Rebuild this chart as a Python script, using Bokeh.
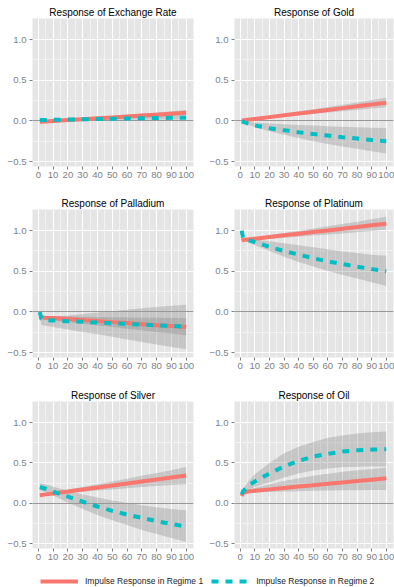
from bokeh.plotting import figure
from bokeh.models import Range1d, FixedTicker, Legend, LegendItem
from bokeh.layouts import column, row
from bokeh.embed import file_html
from bokeh.resources import INLINE

# ---------------- data ----------------
HORIZON = [1, 2, 5, 10, 20, 30, 40, 50, 60, 70, 80, 90, 100]

TITLES = ["Response of Exchange Rate", "Response of Gold",
          "Response of Palladium", "Response of Platinum",
          "Response of Silver", "Response of Oil"]
LEGEND_LABELS = ["Impulse Response in Regime 1", "Impulse Response in Regime 2"]

X_TICKS = [0, 10, 20, 30, 40, 50, 60, 70, 80, 90, 100]
X_MINOR = [5, 15, 25, 35, 45, 55, 65, 75, 85, 95]
X_LABELS = ["0", "10", "20", "30", "40", "50", "60", "70", "80", "90", "100"]
Y_TICKS = [-0.5, 0.0, 0.5, 1.0]
Y_MINOR = [-0.25, 0.25, 0.75]
Y_LABELS = ["\u22120.5", "0.0", "0.5", "1.0"]

# Exchange Rate
exch_r1 = [-0.010, -0.009, -0.006, 0.000, 0.011, 0.022, 0.033, 0.044, 0.055, 0.066, 0.077, 0.089, 0.100]
exch_r1_lo = [-0.013, -0.013, -0.011, -0.007, 0.001, 0.009, 0.017, 0.026, 0.034, 0.042, 0.050, 0.058, 0.065]
exch_r1_hi = [-0.007, -0.005, -0.001, 0.007, 0.021, 0.035, 0.049, 0.062, 0.076, 0.090, 0.104, 0.119, 0.135]
exch_r2 = [0.010, 0.011, 0.012, 0.014, 0.017, 0.020, 0.024, 0.027, 0.030, 0.033, 0.036, 0.038, 0.040]
exch_r2_lo = [0.007, 0.008, 0.008, 0.009, 0.010, 0.011, 0.013, 0.014, 0.015, 0.016, 0.017, 0.017, 0.017]
exch_r2_hi = [0.013, 0.014, 0.016, 0.019, 0.024, 0.029, 0.035, 0.040, 0.045, 0.050, 0.055, 0.059, 0.063]

# Gold
gold_r1 = [0.005, 0.007, 0.014, 0.025, 0.047, 0.069, 0.091, 0.114, 0.136, 0.158, 0.180, 0.203, 0.225]
gold_r1_lo = [0.004, 0.006, 0.011, 0.019, 0.036, 0.052, 0.069, 0.086, 0.103, 0.120, 0.136, 0.153, 0.170]
gold_r1_hi = [0.006, 0.008, 0.017, 0.031, 0.059, 0.087, 0.115, 0.144, 0.172, 0.200, 0.228, 0.257, 0.285]
gold_r2 = [-0.005, -0.012, -0.030, -0.055, -0.090, -0.115, -0.140, -0.160, -0.180, -0.200, -0.215, -0.235, -0.250]
gold_r2_lo = [-0.008, -0.020, -0.045, -0.075, -0.125, -0.170, -0.210, -0.248, -0.282, -0.313, -0.343, -0.372, -0.400]
gold_r2_hi = [-0.002, -0.005, -0.012, -0.020, -0.030, -0.040, -0.050, -0.057, -0.064, -0.070, -0.076, -0.082, -0.088]

# Palladium
pall_r1 = [-0.050, -0.065, -0.070, -0.075, -0.087, -0.100, -0.112, -0.125, -0.137, -0.150, -0.162, -0.174, -0.186]
pall_r1_lo = [-0.060, -0.085, -0.095, -0.105, -0.125, -0.145, -0.165, -0.185, -0.205, -0.225, -0.245, -0.265, -0.285]
pall_r1_hi = [-0.040, -0.050, -0.052, -0.054, -0.057, -0.060, -0.063, -0.066, -0.068, -0.070, -0.072, -0.074, -0.076]
pall_r2 = [0.000, -0.080, -0.100, -0.105, -0.113, -0.121, -0.130, -0.139, -0.147, -0.156, -0.164, -0.172, -0.180]
pall_r2_lo = [0.000, -0.160, -0.170, -0.185, -0.215, -0.245, -0.275, -0.305, -0.340, -0.370, -0.400, -0.430, -0.460]
pall_r2_hi = [0.000, -0.075, -0.070, -0.060, -0.045, -0.025, -0.008, 0.010, 0.028, 0.045, 0.060, 0.075, 0.090]

# Platinum
plat_r1 = [0.875, 0.885, 0.891, 0.901, 0.921, 0.942, 0.962, 0.983, 1.003, 1.024, 1.044, 1.065, 1.085]
plat_r1_lo = [0.872, 0.880, 0.884, 0.889, 0.900, 0.913, 0.926, 0.939, 0.952, 0.966, 0.980, 0.995, 1.012]
plat_r1_hi = [0.878, 0.890, 0.898, 0.913, 0.942, 0.970, 0.998, 1.026, 1.054, 1.083, 1.110, 1.140, 1.170]
plat_r2 = [1.000, 0.900, 0.885, 0.860, 0.800, 0.750, 0.705, 0.660, 0.622, 0.590, 0.557, 0.527, 0.500]
plat_r2_lo = [1.000, 0.895, 0.860, 0.820, 0.750, 0.680, 0.615, 0.560, 0.505, 0.455, 0.410, 0.365, 0.320]
plat_r2_hi = [1.000, 0.905, 0.900, 0.890, 0.870, 0.845, 0.820, 0.795, 0.770, 0.745, 0.725, 0.705, 0.690]

# Silver
silv_r1 = [0.100, 0.102, 0.110, 0.122, 0.147, 0.171, 0.196, 0.221, 0.245, 0.270, 0.295, 0.320, 0.345]
silv_r1_lo = [0.095, 0.097, 0.102, 0.110, 0.126, 0.142, 0.158, 0.172, 0.187, 0.200, 0.213, 0.225, 0.235]
silv_r1_hi = [0.105, 0.108, 0.118, 0.135, 0.168, 0.200, 0.235, 0.270, 0.305, 0.340, 0.375, 0.410, 0.450]
silv_r2 = [0.200, 0.195, 0.180, 0.145, 0.082, 0.020, -0.040, -0.095, -0.140, -0.180, -0.222, -0.256, -0.290]
silv_r2_lo = [0.160, 0.155, 0.135, 0.095, 0.010, -0.070, -0.145, -0.210, -0.270, -0.330, -0.380, -0.430, -0.480]
silv_r2_hi = [0.250, 0.245, 0.235, 0.205, 0.155, 0.110, 0.070, 0.035, 0.005, -0.025, -0.050, -0.070, -0.087]

# Oil
oil_r1 = [0.090, 0.130, 0.145, 0.155, 0.172, 0.190, 0.207, 0.224, 0.241, 0.258, 0.275, 0.292, 0.310]
oil_r1_lo = [0.090, 0.120, 0.128, 0.133, 0.140, 0.145, 0.150, 0.154, 0.157, 0.160, 0.162, 0.164, 0.165]
oil_r1_hi = [0.090, 0.140, 0.165, 0.190, 0.235, 0.275, 0.310, 0.340, 0.365, 0.390, 0.410, 0.425, 0.440]
oil_r2 = [0.110, 0.150, 0.210, 0.270, 0.370, 0.455, 0.525, 0.578, 0.612, 0.640, 0.655, 0.665, 0.670]
oil_r2_lo = [0.100, 0.130, 0.160, 0.200, 0.260, 0.320, 0.370, 0.405, 0.430, 0.445, 0.452, 0.455, 0.455]
oil_r2_hi = [0.120, 0.170, 0.260, 0.360, 0.500, 0.620, 0.700, 0.760, 0.810, 0.840, 0.865, 0.880, 0.890]

PANELS = [
    (exch_r1, exch_r1_lo, exch_r1_hi, exch_r2, exch_r2_lo, exch_r2_hi),
    (gold_r1, gold_r1_lo, gold_r1_hi, gold_r2, gold_r2_lo, gold_r2_hi),
    (pall_r1, pall_r1_lo, pall_r1_hi, pall_r2, pall_r2_lo, pall_r2_hi),
    (plat_r1, plat_r1_lo, plat_r1_hi, plat_r2, plat_r2_lo, plat_r2_hi),
    (silv_r1, silv_r1_lo, silv_r1_hi, silv_r2, silv_r2_lo, silv_r2_hi),
    (oil_r1, oil_r1_lo, oil_r1_hi, oil_r2, oil_r2_lo, oil_r2_hi),
]

# ---------------- style ----------------
RED = "#F8766D"
TEAL = "#00BFC4"
FONT = "Liberation Sans"
GREY_TXT = "#7F7F7F"

ROW_HEIGHTS = [191, 192, 187]      # figure heights per row
ROW_BOTTOM = [25, 26, 22]          # bottom border per row


def make_panel(idx):
    r1, r1_lo, r1_hi, r2, r2_lo, r2_hi = PANELS[idx]
    left = idx % 2 == 0
    rr = idx // 2
    p = figure(
        width=196 if left else 198,
        height=ROW_HEIGHTS[rr],
        x_range=Range1d(-3.95, 104.95),
        y_range=Range1d(-0.56, 1.26),
        toolbar_location=None,
        output_backend="svg",
        title=TITLES[idx],
        min_border_left=32 if left else 38,
        min_border_right=3 if left else 1,
        min_border_top=18,
        min_border_bottom=ROW_BOTTOM[rr],
        background_fill_color="#E5E5E5",
        border_fill_color="white",
        outline_line_color=None,
    )
    p.title.align = "center"
    p.title.text_font = FONT
    p.title.text_font_size = "10px"
    p.title.text_font_style = "normal"
    p.title.text_color = "black"
    p.title.standoff = 1

    xt = FixedTicker(ticks=X_TICKS, minor_ticks=X_MINOR)
    yt = FixedTicker(ticks=Y_TICKS, minor_ticks=Y_MINOR)
    p.xaxis.ticker = xt
    p.yaxis.ticker = yt
    p.xgrid.ticker = xt
    p.ygrid.ticker = yt
    p.xaxis.major_label_overrides = dict(zip(X_TICKS, X_LABELS))
    p.yaxis.major_label_overrides = dict(zip(Y_TICKS, Y_LABELS))
    for ax in (p.xaxis, p.yaxis):
        ax.axis_line_color = None
        ax.major_tick_line_color = GREY_TXT
        ax.major_tick_out = 3
        ax.major_tick_in = 0
        ax.minor_tick_line_color = None
        ax.major_label_text_color = GREY_TXT
        ax.major_label_text_font = FONT
        ax.major_label_text_font_size = "9.6px"
    p.xaxis.major_label_standoff = 1
    p.yaxis.major_label_standoff = 2
    for g in (p.xgrid, p.ygrid):
        g.grid_line_color = "white"
        g.grid_line_width = 1
        g.minor_grid_line_color = "#F2F2F2"
        g.minor_grid_line_width = 1

    p.varea(x=HORIZON, y1=r1_lo, y2=r1_hi, fill_color="#7F7F7F", fill_alpha=0.3)
    p.varea(x=HORIZON, y1=r2_lo, y2=r2_hi, fill_color="#7F7F7F", fill_alpha=0.3)
    p.hspan(y=[0.0], line_color="#999999", line_width=1.2)
    p.line(x=HORIZON, y=r1, line_color=RED, line_width=4, line_join="round")
    p.line(x=HORIZON, y=r2, line_color=TEAL, line_width=4, line_dash="7 7",
           line_join="round")
    return p


panels = [make_panel(i) for i in range(6)]

# legend strip (renderers hold series data but sit outside the visible range)
leg = figure(width=394, height=17, toolbar_location=None, output_backend="svg",
             x_range=Range1d(0, 1), y_range=Range1d(10, 11),
             min_border=0, outline_line_color=None, border_fill_color="white",
             background_fill_color="white")
leg.axis.visible = False
leg.grid.visible = False
g1 = leg.line(x=HORIZON, y=exch_r1, line_color=RED, line_width=4)
g2 = leg.line(x=HORIZON, y=exch_r2, line_color=TEAL, line_width=4, line_dash="7 7")
legend = Legend(
    items=[LegendItem(label=LEGEND_LABELS[0], renderers=[g1]),
           LegendItem(label=LEGEND_LABELS[1], renderers=[g2])],
    orientation="horizontal", location=(40, 1),
    label_text_font=FONT, label_text_font_size="8.5px", label_text_color="#222222",
    glyph_width=38, glyph_height=10, label_height=10,
    label_standoff=7, spacing=8, padding=0, margin=0,
    border_line_color=None, background_fill_alpha=0,
)
leg.add_layout(legend, "center")

layout = column(
    row(panels[0], panels[1]),
    row(panels[2], panels[3]),
    row(panels[4], panels[5]),
    leg,
)

open("out.html", "w").write(file_html(layout, INLINE))
